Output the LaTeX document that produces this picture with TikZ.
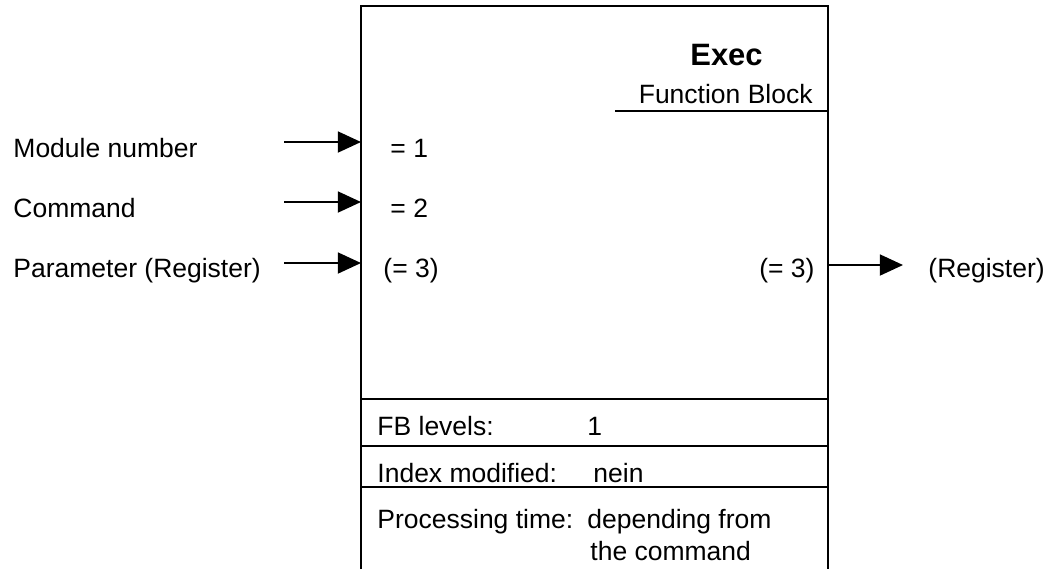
\documentclass[tikz,border=0pt]{standalone}
\usepackage{fontspec}
\setmainfont{Liberation Sans}
\usetikzlibrary{arrows.meta,positioning}

\begin{document}
\begin{tikzpicture}[
  x=0.453pt, y=-0.453pt,
  texto/.style={inner sep=0pt, anchor=base west, font=\fontsize{12}{14}\selectfont},
  titulo/.style={inner sep=0pt, anchor=base east, font=\fontsize{14}{16}\selectfont\bfseries},
  linea/.style={line width=0.7pt},
  flecha/.style={-{Triangle[length=10.5pt, width=9.5pt]}, line width=0.9pt}
]
\useasboundingbox (0,0) rectangle (1053,569);
% the block
\draw[linea] (361,569) -- (361,6) -- (828,6) -- (828,569);
\draw[linea] (615,111) -- (828,111);
\draw[linea] (361,399) -- (828,399);
\draw[linea] (361,446) -- (828,446);
\draw[linea] (361,487) -- (828,487);
\node[titulo] (exec) at (763,65) {Exec};
\node[texto, anchor=base east] (fb) at (813,103) {Function Block};
% inputs
\node[texto] (modnr) at (13,157) {Module number};
\node[texto] (cmd) at (13,217) {Command};
\node[texto] (param) at (13,277) {Parameter (Register)};
\node[texto] (in1) at (390,157) {= 1};
\node[texto] (in2) at (390,217) {= 2};
\node[texto] (in3) at (383,277) {(= 3)};
\coordinate (a1) at (284,142);
\coordinate (a2) at (284,202);
\coordinate (a3) at (284,263);
\coordinate (e1) at (361,142);
\coordinate (e2) at (361,202);
\coordinate (e3) at (361,263);
\draw[flecha] (a1) -- (e1);
\draw[flecha] (a2) -- (e2);
\draw[flecha] (a3) -- (e3);
% output
\node[texto, anchor=base east] (out3) at (815,277) {(= 3)};
\node[texto] (reg) at (928,277) {(Register)};
\coordinate (s1) at (828,265);
\coordinate (f1) at (903,265);
\draw[flecha] (s1) -- (f1);
% table
\node[texto] (lev) at (377,435) {FB levels:};
\node[texto] (levv) at (587,435) {1};
\node[texto] (idx) at (377,482) {Index modified:};
\node[texto] (idxv) at (593,482) {nein};
\node[texto] (pt) at (377,528) {Processing time:};
\node[texto] (ptv) at (587,528) {depending from};
\node[texto] (ptw) at (590,560) {the command};
\end{tikzpicture}
\end{document}
